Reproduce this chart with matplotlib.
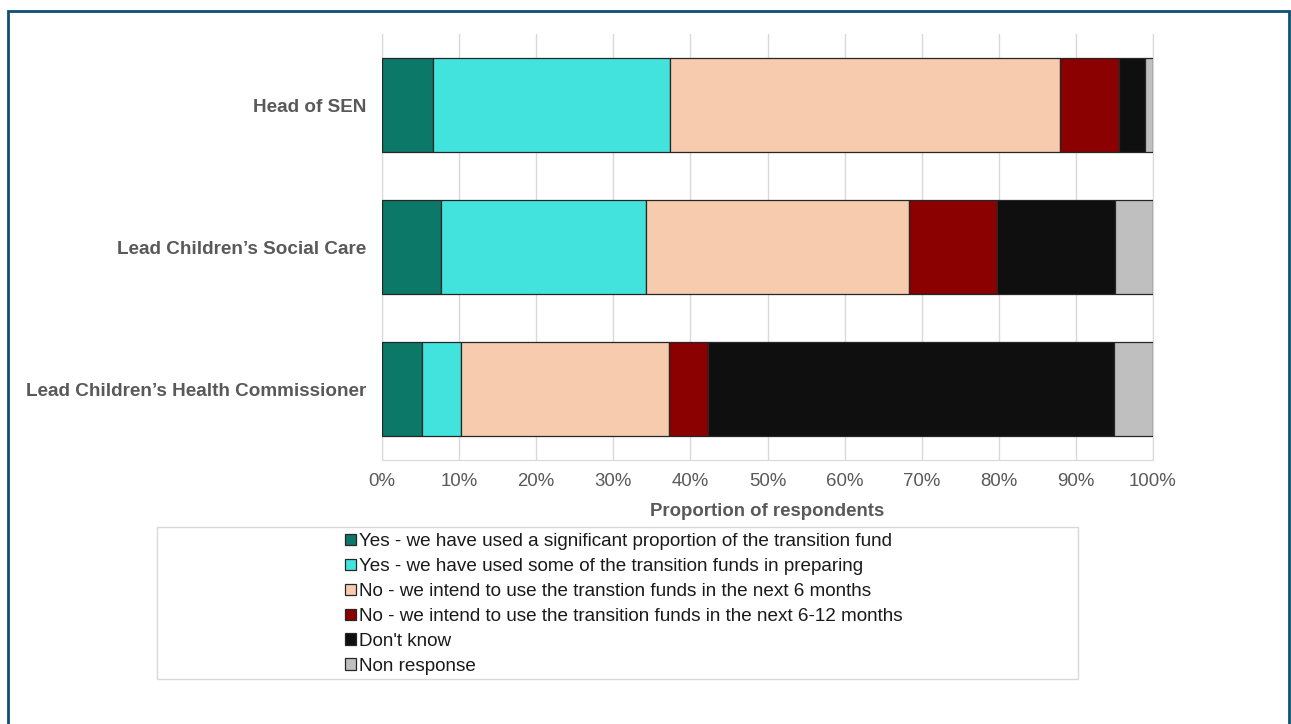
import matplotlib
matplotlib.use("Agg")
import matplotlib.pyplot as plt
from matplotlib.patches import Rectangle
import numpy as np

plt.rcParams['font.family'] = ['Liberation Sans', 'DejaVu Sans']

categories = ["Head of SEN", "Lead Children\u2019s Social Care", "Lead Children\u2019s Health Commissioner"]
series_names = [
    "Yes - we have used a significant proportion of the transition fund",
    "Yes - we have used some of the transition funds in preparing",
    "No - we intend to use the transtion funds in the next 6 months",
    "No - we intend to use the transition funds in the next 6-12 months",
    "Don't know",
    "Non response",
]
sig_used = [6.6, 7.7, 5.2]
some_used = [30.8, 26.5, 5.1]
next_6 = [50.5, 34.2, 26.9]
next_6_12 = [7.7, 11.4, 5.1]
dont_know = [3.4, 15.3, 52.7]
non_resp = [1.0, 4.9, 5.0]
series_values = [sig_used, some_used, next_6, next_6_12, dont_know, non_resp]
colors = ["#0b7868", "#43e3dd", "#f7cbae", "#8b0000", "#0f0f0f", "#bfbfbf"]
xticks = [0, 10, 20, 30, 40, 50, 60, 70, 80, 90, 100]
xticklabels = [f"{t}%" for t in xticks]

W, H = 1291, 724
fig = plt.figure(figsize=(W / 100, H / 100), dpi=100)
ax = fig.add_axes([382 / W, 1 - 460 / H, 771 / W, 426 / H])

y = np.arange(len(categories))
left = np.zeros(len(categories))
handles = []
for name, vals, c in zip(series_names, series_values, colors):
    b = ax.barh(y, vals, left=left, height=0.657, color=c, edgecolor="#262626",
                linewidth=0.9, label=name, zorder=3)
    handles.append(b)
    left += np.array(vals)

ax.set_xlim(0, 100)
ax.set_ylim(len(categories) - 0.5, -0.5)
ax.set_xticks(xticks)
ax.set_xticklabels(xticklabels, fontsize=13.4, color="#595959")
ax.set_yticks(y)
ax.set_yticklabels(categories, fontsize=13.6, color="#595959", fontweight="bold")
ax.tick_params(axis="both", length=0)
ax.tick_params(axis="y", pad=11)
ax.tick_params(axis="x", pad=9.5)
ax.grid(axis="x", color="#d9d9d9", linewidth=1, zorder=0)
for s in ["left", "bottom", "right"]:
    ax.spines[s].set_color("#d9d9d9")
ax.spines["top"].set_visible(False)
ax.set_xlabel("Proportion of respondents", fontsize=13.4, color="#595959",
              fontweight="bold", labelpad=9)

# legend frame
fig.patches.append(Rectangle((157 / W, 1 - 679 / H), (1078 - 157) / W, (679 - 527) / H,
                             transform=fig.transFigure, facecolor="white",
                             edgecolor="#d9d9d9", linewidth=1))
leg = fig.legend(handles=handles, labels=series_names, loc="upper left",
                 bbox_to_anchor=(330 / W, 1 - 518 / H), frameon=False,
                 fontsize=13.6, handlelength=0.55, handleheight=0.55,
                 handletextpad=0.18, labelspacing=0.42, borderpad=0.3)
for t in leg.get_texts():
    t.set_color("#1a1a1a")

# outer frame
fig.patches.append(Rectangle((8 / W, -0.05), (1289 - 8) / W, 1.05 - 11 / H,
                             transform=fig.transFigure, facecolor="none",
                             edgecolor="#0e4f74", linewidth=2))

fig.savefig("out.png", dpi=100)
